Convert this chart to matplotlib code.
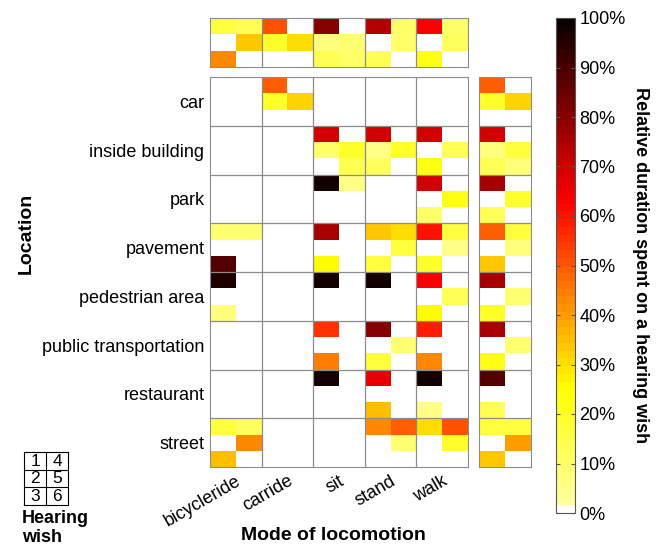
import matplotlib
matplotlib.use("Agg")
import matplotlib.pyplot as plt
import numpy as np
from matplotlib.colors import LinearSegmentedColormap, ListedColormap

plt.rcParams["font.family"] = ["Liberation Sans", "DejaVu Sans"]

locations = ["car", "inside building", "park", "pavement", "pedestrian area",
             "public transportation", "restaurant", "street"]
modes = ["bicycleride", "carride", "sit", "stand", "walk"]
wish_labels = [["1", "4"], ["2", "5"], ["3", "6"]]

# share per hearing wish 1..6, one list per mode (same order as modes)
z = [0, 0, 0, 0, 0, 0]
car = [z, [.49, .20, 0, 0, .32, 0], z, z, z]
inside_building = [z, z, [.69, .10, 0, 0, .19, .13], [.70, .05, .11, 0, .20, 0],
                   [.69, 0, .22, 0, .13, 0]]
park = [z, z, [.97, 0, 0, .05, 0, 0], z, [.70, 0, .10, 0, .22, 0]]
pavement = [[.08, 0, .88, .08, 0, 0], z, [.76, 0, .25, 0, 0, 0],
            [.34, 0, .17, .31, .16, 0], [.60, 0, .19, .16, .05, 0]]
pedestrian_area = [[.96, 0, .07, 0, 0, 0], z, [.98, 0, 0, 0, 0, 0],
                   [.98, 0, 0, 0, 0, 0], [.63, 0, .25, 0, .13, 0]]
public_transportation = [z, z, [.56, 0, .44, 0, 0, 0], [.81, 0, .16, 0, .08, 0],
                         [.58, 0, .43, 0, 0, 0]]
restaurant = [z, z, [.98, 0, 0, 0, 0, 0], [.66, 0, .35, 0, 0, 0],
              [.97, 0, .05, 0, 0, 0]]
street = [[.17, 0, .35, .11, .43, 0], z, z, [.43, 0, 0, .49, .08, 0],
          [.30, 0, 0, .50, .20, 0]]
main_data = [car, inside_building, park, pavement, pedestrian_area,
             public_transportation, restaurant, street]

# marginals
per_mode = [[.16, 0, .43, .14, .34, 0], [.50, .20, 0, 0, .30, 0],
            [.81, .07, .13, 0, .08, .10], [.74, 0, .13, .10, .10, 0],
            [.63, 0, .22, .10, .11, 0]]
per_location = [[.49, .20, 0, 0, .32, 0], [.69, .07, .14, 0, .17, .07],
                [.75, 0, .13, 0, .20, 0], [.49, 0, .33, .16, .07, 0],
                [.75, 0, .19, 0, .08, 0], [.75, 0, .22, 0, .08, 0],
                [.88, 0, .13, 0, 0, 0], [.16, 0, .34, .16, .40, 0]]


def block(vals):
    # 3 rows x 2 cols: wishes 1-3 left, 4-6 right
    return np.array(vals).reshape(2, 3).T


# colormap: white for zero, then pale yellow -> yellow -> red -> black
base = LinearSegmentedColormap.from_list(
    "hw", [(0.0, (1, 1, 0.65)), (0.25, (1, 1, 0)), (0.63, (1, 0, 0)),
           (1.0, (0.04, 0, 0))])
cols = base(np.linspace(0, 1, 64))
cols[0] = (1, 1, 1, 1)
cmap = ListedColormap(cols)

W, H = 659, 545
fig = plt.figure(figsize=(W / 100, H / 100), dpi=100)


def rect(x0, y0, x1, y1):
    return [x0 / W, 1 - y1 / H, (x1 - x0) / W, (y1 - y0) / H]


grid_col = "#8c8c8c"

# main grid
M = np.vstack([np.hstack([block(m) for m in loc]) for loc in main_data])
ax = fig.add_axes(rect(210, 77, 468, 467))
ax.pcolormesh(np.arange(11), np.arange(25), M, cmap=cmap, vmin=0, vmax=1)
ax.set_xlim(0, 10)
ax.set_ylim(24, 0)
for x in range(2, 10, 2):
    ax.axvline(x, color=grid_col, lw=0.9)
for y in range(3, 24, 3):
    ax.axhline(y, color=grid_col, lw=0.9)
ax.set_yticks(np.arange(1.5, 24, 3))
ax.set_yticklabels(locations, fontsize=13)
ax.set_xticks(np.arange(1, 10, 2))
ax.set_xticklabels(modes, fontsize=13, rotation=30, ha="right",
                   rotation_mode="anchor")
ax.tick_params(length=0, pad=4)
for s in ax.spines.values():
    s.set_color(grid_col)

# top marginal
T = np.hstack([block(m) for m in per_mode])
axt = fig.add_axes(rect(210, 18, 468, 67))
axt.pcolormesh(np.arange(11), np.arange(4), T, cmap=cmap, vmin=0, vmax=1)
axt.set_xlim(0, 10)
axt.set_ylim(3, 0)
for x in range(2, 10, 2):
    axt.axvline(x, color=grid_col, lw=0.9)
axt.set_xticks([])
axt.set_yticks([])
for s in axt.spines.values():
    s.set_color(grid_col)

# right marginal
R = np.vstack([block(m) for m in per_location])
axr = fig.add_axes(rect(479, 77, 531, 467))
axr.pcolormesh(np.arange(3), np.arange(25), R, cmap=cmap, vmin=0, vmax=1)
axr.set_xlim(0, 2)
axr.set_ylim(24, 0)
for y in range(3, 24, 3):
    axr.axhline(y, color=grid_col, lw=0.9)
axr.set_xticks([])
axr.set_yticks([])
for s in axr.spines.values():
    s.set_color(grid_col)

# colorbar
cax = fig.add_axes(rect(556, 18, 575, 513))
sm = plt.cm.ScalarMappable(cmap=cmap, norm=plt.Normalize(0, 1))
cb = fig.colorbar(sm, cax=cax)
ticks = np.arange(0, 1.01, 0.1)
cb.set_ticks(ticks)
cb.set_ticklabels([f"{int(round(t * 100))}%" for t in ticks])
cax.tick_params(labelsize=13, direction="in", left=True, right=True,
                length=3, color="#555555", pad=3)
cb.outline.set_edgecolor("#555555")
fig.text(640 / W, 1 - 265 / H, "Relative duration spent on a hearing wish",
         rotation=-90, ha="center", va="center", fontsize=13,
         fontweight="bold")

# axis titles
fig.text(26 / W, 1 - 233 / H, "Location", rotation=90, ha="center",
         va="center", fontsize=14, fontweight="bold")
fig.text(333 / W, 1 - 535 / H, "Mode of locomotion", ha="center",
         va="center", fontsize=14, fontweight="bold")

# hearing wish legend
axl = fig.add_axes(rect(24, 452, 68, 505))
axl.set_xlim(0, 2)
axl.set_ylim(3, 0)
for r in range(3):
    for c in range(2):
        axl.text(c + 0.5, r + 0.52, wish_labels[r][c], ha="center",
                 va="center", fontsize=12.5)
axl.axvline(1, color="black", lw=0.8)
for y in (1, 2):
    axl.axhline(y, color="black", lw=0.8)
axl.set_xticks([])
axl.set_yticks([])
fig.text(22 / W, 1 - 528 / H, "Hearing\nwish", ha="left", va="center",
         fontsize=13, fontweight="bold", linespacing=1.15)

fig.savefig("out.png", dpi=100)
